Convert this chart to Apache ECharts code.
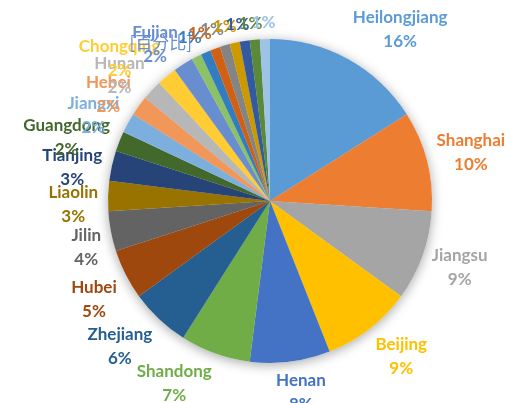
<!DOCTYPE html>
<html>
<head>
<meta charset="utf-8">
<script src="https://cdn.jsdelivr.net/npm/echarts@6/dist/echarts.min.js"></script>
<style>
  html, body { margin: 0; padding: 0; background: #fff; }
  #chart { width: 514px; height: 403px; }
</style>
</head>
<body>
<div id="chart"></div>
<script>
// slice names, clockwise from 12 o'clock (unnamed slices have no category text)
const provinces = [
  'Heilongjiang', 'Shanghai', 'Jiangsu', 'Beijing', 'Henan', 'Shandong', 'Zhejiang',
  'Hubei', 'Jilin', 'Liaolin', 'Tianjing', 'Guangdong', 'Jiangxi', 'Hebei', 'Hunan',
  'Chongqing', 'Fujian', '[百分比]', '', '', '', '', '', '', ''
];
const shares = [16, 10, 9, 9, 8, 7, 6, 5, 4, 3, 3, 2, 2, 2, 2, 2, 2, 1, 1, 1, 1, 1, 1, 1, 1];

const sliceColors = [
  '#5B9BD5', '#ED7D31', '#A5A5A5', '#FFC000', '#4472C4', '#70AD47', '#255E91',
  '#9E480E', '#636363', '#997300', '#264478', '#43682B', '#7CAFDD', '#F1975A',
  '#B7B7B7', '#FFCD33', '#698ED0', '#8CC168', '#327DC2', '#D26012', '#848484',
  '#CC9A00', '#335AA1', '#5A8A39', '#9DC3E6'
];
const labelColorFix = { 17: '#6A8FD0' };

const PIE_X = 270, PIE_Y = 201, PIE_R = 162, LABEL_DIST = 172;
const total = shares.reduce((a, b) => a + b, 0);
const clamp = v => Math.max(-1, Math.min(1, v));

// middle angle of every slice (screen direction)
let acc = 0;
const midDir = shares.map(v => {
  const a = (acc + v / 2) / total * Math.PI * 2;
  acc += v;
  return [Math.sin(a), -Math.cos(a)];
});

const chart = echarts.init(document.getElementById('chart'));

const pieData = provinces.map((name, i) => ({
  name: name,
  value: shares[i],
  itemStyle: { color: sliceColors[i] },
  label: { color: labelColorFix[i] || sliceColors[i] }
}));

chart.setOption({
  backgroundColor: '#fff',
  animation: false,
  series: [
    {
      // soft shadow under the pie
      type: 'pie',
      silent: true,
      center: [PIE_X, PIE_Y],
      radius: PIE_R,
      data: shares.map((v, i) => ({ name: 'shadow' + i, value: v })),
      itemStyle: {
        color: '#fff',
        shadowBlur: 12,
        shadowColor: 'rgba(0,0,0,0.35)',
        shadowOffsetY: 2
      },
      label: { show: false },
      labelLine: { show: false },
      emphasis: { disabled: true }
    },
    {
      type: 'pie',
      center: [PIE_X, PIE_Y],
      radius: PIE_R,
      startAngle: 90,
      clockwise: true,
      avoidLabelOverlap: false,
      data: pieData,
      emphasis: { disabled: true },
      labelLine: { show: false, length: 0, length2: 0 },
      label: {
        show: true,
        position: 'outside',
        fontFamily: 'Lato, "Noto Sans CJK SC", sans-serif',
        formatter: p => {
          const pct = Math.round(p.percent) + '%';
          if (p.name === '') return '{p|' + pct + '}';
          if (p.name.charAt(0) === '[') return '{c|' + p.name + '}';
          return '{n|' + p.name + '}\n{p|' + pct + '}';
        },
        rich: {
          n: { fontSize: 17, fontWeight: 'bold', lineHeight: 24, fontFamily: 'Lato' },
          p: { fontSize: 17, fontWeight: 'bold', lineHeight: 24, fontFamily: 'Lato' },
          c: { fontSize: 17, fontWeight: 'normal', lineHeight: 24, fontFamily: '"Noto Sans CJK SC", Lato' }
        }
      },
      labelLayout: params => {
        const d = midDir[params.dataIndex];
        const w = params.labelRect.width, h = params.labelRect.height;
        const fx = clamp(3 * d[0]);
        const fy = clamp(1.2 * d[1] + (d[0] < 0 ? 0.45 : 0));
        return {
          x: PIE_X + d[0] * LABEL_DIST + fx * w / 2,
          y: PIE_Y + d[1] * LABEL_DIST + fy * h / 2,
          align: 'center',
          verticalAlign: 'middle'
        };
      }
    }
  ]
});
</script>
</body>
</html>
